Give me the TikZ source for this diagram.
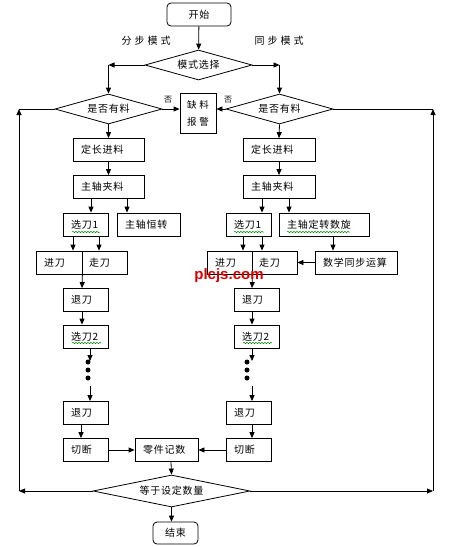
\documentclass[tikz,border=0pt]{standalone}
\usepackage{fontspec}
\setmainfont{Liberation Sans}
\newfontfamily\cjk[LetterSpace=8]{Noto Sans CJK SC}
\newfontfamily\cjkw[LetterSpace=30]{Noto Sans CJK SC}
\usetikzlibrary{arrows.meta,shapes.geometric,decorations.pathmorphing}
\tikzset{
  every node/.style={font=\cjk\fontsize{10}{12}\selectfont},
  box/.style={draw, line width=0.8pt, inner xsep=8pt, inner ysep=0pt, align=left, minimum height=23pt},
  term/.style={draw, line width=0.8pt, rounded corners=4pt, inner sep=0pt, minimum height=23pt, align=center},
  dia/.style={draw, line width=0.8pt, diamond, inner sep=0pt, shape aspect=4},
  lbl/.style={font=\cjkw\fontsize{10}{12}\selectfont, inner sep=0pt},
  nolbl/.style={font=\cjk\fontsize{8}{9}\selectfont, inner sep=0pt},
  dotn/.style={circle, fill=black, inner sep=0pt, minimum size=5pt},
  arr/.style={line width=0.8pt, -{Triangle[length=6pt,width=5pt]}},
  ln/.style={line width=0.8pt},
  squig/.style={green!55!black, line width=0.5pt, decorate, decoration={snake, amplitude=0.7pt, segment length=3pt}},
  wm/.style={font=\fontsize{15}{15}\selectfont\bfseries, text=red!85!black, inner sep=0pt}
}
\begin{document}
\begin{tikzpicture}[x=1pt,y=-1pt]
\fill[white] (0,0) rectangle (456,547);
\useasboundingbox (0,0) rectangle (456,547);

% top
\node[term, minimum width=64pt] (start) at (199,14.5) {开始};
\node[lbl] (mA) at (146,41) {分步模式};
\node[lbl] (mB) at (279,41) {同步模式};
\node[dia, minimum width=107pt, minimum height=30pt] (mode) at (198.5,65) {模式选择};
\coordinate (Lc) at (108.5,65);
\coordinate (Rc) at (279.5,65);
\node[dia, minimum width=107pt, minimum height=30pt] (Ld) at (108.5,109) {是否有料};
\node[dia, minimum width=107pt, minimum height=30pt] (Rd) at (279.5,109) {是否有料};
\node[draw, line width=0.8pt, inner sep=0pt, minimum width=36pt, minimum height=40pt, align=center, font=\cjkw\fontsize{9.5}{17}\selectfont] (alarm) at (198,113) {缺料\\报警};
\node[nolbl] (noL) at (168,100) {否};
\node[nolbl] (noR) at (228,100) {否};

% left column
\node[box, text width=55pt] (Ldz) at (108.5,150) {定长进料};
\node[box, text width=55pt] (Lzj) at (108.5,187) {主轴夹料};
\node[box, text width=29pt] (Lxd1) at (85.5,224.5) {选刀1};
\node[box, text width=47pt] (Lhz) at (148.5,224.5) {主轴恒转};
\node[box, text width=30pt] (Ljd) at (59,262.5) {进刀};
\node[box, inner xsep=7pt, text width=31pt] (Lzd) at (104.5,262.5) {走刀};
\node[box, text width=29pt] (Ltd1) at (85.5,300) {退刀};
\node[box, text width=29pt] (Lxd2) at (85.5,336.5) {选刀2};
\node[dotn] (Ldot1) at (88,362) {};
\node[dotn] (Ldot2) at (88,370) {};
\node[dotn] (Ldot3) at (88,378) {};
\node[box, text width=29pt] (Ltd2) at (85.5,413) {退刀};
\node[box, text width=29pt] (Lcd) at (85.5,450) {切断};

% right column
\node[box, text width=56pt] (Rdz) at (279,150) {定长进料};
\node[box, text width=56pt] (Rzj) at (279,187) {主轴夹料};
\node[box, text width=29pt] (Rxd1) at (248.5,224.5) {选刀1};
\node[box, text width=74pt] (Rdzs) at (324,224.5) {主轴定转数旋};
\node[box, text width=29pt] (Rjd) at (229.5,262.5) {进刀};
\node[box, text width=31pt, inner xsep=7pt] (Rzd) at (274.5,262.5) {走刀};
\node[box, text width=66pt] (Rsx) at (356,262.5) {数学同步运算};
\node[box, text width=29pt] (Rtd1) at (256.5,300) {退刀};
\node[box, text width=29pt] (Rxd2) at (256.5,336.5) {选刀2};
\node[dotn] (Rdot1) at (247,362) {};
\node[dotn] (Rdot2) at (247,370) {};
\node[dotn] (Rdot3) at (247,378) {};
\node[box, text width=29pt] (Rtd2) at (248.5,413) {退刀};
\node[box, text width=29pt] (Rcd) at (248.5,450) {切断};

% bottom
\node[box, text width=47pt] (cnt) at (166.5,450) {零件记数};
\node[dia, minimum width=157pt, minimum height=32pt] (endd) at (171.5,491) {等于设定数量};
\node[term, minimum width=45pt, minimum height=22pt] (stop) at (175.5,533) {结束};

% coordinates for loops
\coordinate (LB) at (19,491);
\coordinate (LT) at (19,109);
\coordinate (RB) at (433,491);
\coordinate (RT) at (433,109);
\coordinate (La) at (90,361);
\coordinate (Lb) at (90,386);
\coordinate (Ra) at (252,361);
\coordinate (Rb) at (252,386);

% connectors top
\draw[arr] (start) -- (mode);
\draw[arr] (mode.west) -- (Lc);
\draw[arr] (Lc) -- (Ld.north);
\draw[arr] (mode.east) -- (Rc);
\draw[arr] (Rc) -- (Rd.north);
\draw[arr] (Ld.east) -- (alarm.west |- Ld.east);
\draw[arr] (Rd.west) -- (alarm.east |- Rd.west);

% left connectors
\draw[arr] (Ld.south) -- (Ldz.north);
\draw[arr] (Ldz.south) -- (Lzj.north);
\draw[arr] ([xshift=-17.5pt]Lzj.south) -- ([xshift=5.5pt]Lxd1.north);
\draw[arr] ([xshift=18.5pt]Lzj.south) -- ([xshift=-21.5pt]Lhz.north);
\draw[arr] ([xshift=-12.5pt]Lxd1.south) -- ([xshift=14pt]Ljd.north);
\draw[arr] ([xshift=13.5pt]Lxd1.south) -- ([xshift=-5.5pt]Lzd.north);
\draw[arr] (Ljd.south east) -- ([xshift=-3.5pt]Ltd1.north);
\draw[arr] ([xshift=-3.5pt]Ltd1.south) -- ([xshift=-3.5pt]Lxd2.north);
\draw[arr] ([xshift=4.5pt]Lxd2.south) -- (La);
\draw[arr] (Lb) -- ([xshift=4.5pt]Ltd2.north);
\draw[arr] ([xshift=-4.5pt]Ltd2.south) -- ([xshift=-4.5pt]Lcd.north);
\draw[arr] (Lcd.east) -- (cnt.west);

% right connectors
\draw[arr] (Rd.south) -- (Rdz.north);
\draw[arr] (Rdz.south) -- (Rzj.north);
\draw[arr] ([xshift=-17pt]Rzj.south) -- ([xshift=13.5pt]Rxd1.north);
\draw[arr] ([xshift=10pt]Rzj.south) -- ([xshift=-35pt]Rdzs.north);
\draw[arr] ([xshift=-5.5pt]Rxd1.south) -- ([xshift=13.5pt]Rjd.north);
\draw[arr] ([xshift=13.5pt]Rxd1.south) -- ([xshift=-12.5pt]Rzd.north);
\draw[arr] ([xshift=9pt]Rdzs.south) -- ([xshift=-23pt]Rsx.north);
\draw[arr] (Rsx.west) -- (Rzd.east);
\draw[arr] (Rjd.south east) -- ([xshift=-4.5pt]Rtd1.north);
\draw[arr] ([xshift=-4.5pt]Rtd1.south) -- ([xshift=-4.5pt]Rxd2.north);
\draw[arr] ([xshift=-4.5pt]Rxd2.south) -- (Ra);
\draw[arr] (Rb) -- ([xshift=3.5pt]Rtd2.north);
\draw[arr] ([xshift=3.5pt]Rtd2.south) -- ([xshift=3.5pt]Rcd.north);
\draw[arr] (Rcd.west) -- (cnt.east);

% bottom connectors
\draw[arr] ([xshift=4.5pt]cnt.south) -- (endd.north);
\draw[arr] (endd.south) -- (endd.south |- stop.north);
\draw[arr] (endd.west) -- (LB);
\draw[arr] (LB) -- (LT);
\draw[ln] (LT) -- (Ld.west);
\draw[arr] (endd.east) -- (RB);
\draw[arr] (RB) -- (RT);
\draw[ln] (RT) -- (Rd.east);

% spell-check squiggles
\draw[squig] (72,232) -- (100,232);
\draw[squig] (72,343) -- (101,343);
\draw[squig] (234,232) -- (264,232);
\draw[squig] (243,343) -- (272,343);
\draw[squig] (287,232) -- (350,232);

% watermark
\node[wm] (wmark) at (229,275.5) {plcjs.com};
\end{tikzpicture}
\end{document}
